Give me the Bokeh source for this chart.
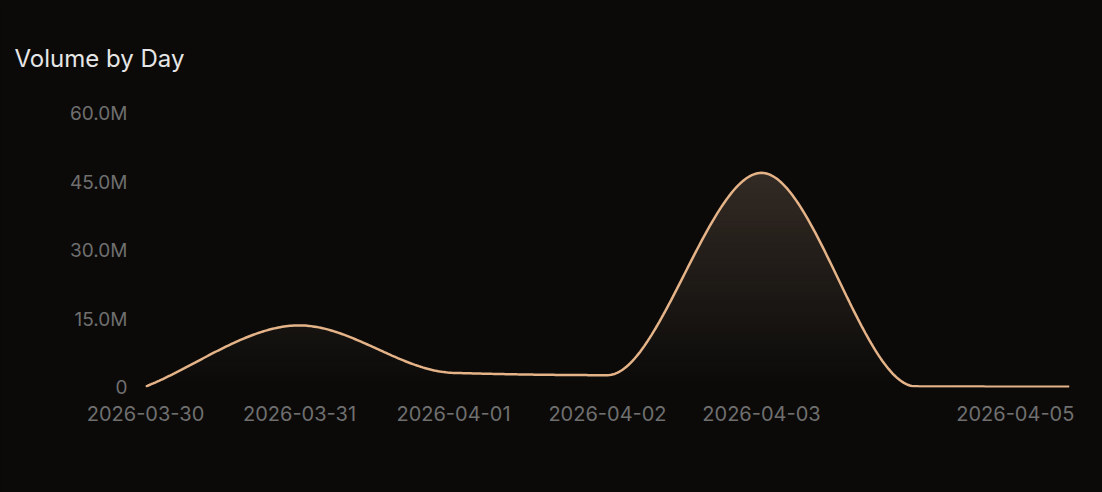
import datetime as dt
import numpy as np
from bokeh.plotting import figure
from bokeh.models import FixedTicker, CustomJSTickFormatter, Range1d, ColumnDataSource
from bokeh.embed import file_html
from bokeh.resources import INLINE

# ---- data ----
dates = ["2026-03-30", "2026-03-31", "2026-04-01", "2026-04-02", "2026-04-03", "2026-04-04", "2026-04-05"]
volume = [0.2e6, 13.6e6, 3.2e6, 2.7e6, 47.0e6, 0.25e6, 0.15e6]
x_tick_labels = ["2026-03-30", "2026-03-31", "2026-04-01", "2026-04-02", "2026-04-03", "2026-04-05"]
y_ticks = [0, 15e6, 30e6, 45e6, 60e6]

BG = (11, 10, 9)
TOP_FILL = (50, 42, 36)
LINE = "#e5b388"
FONT = "Inter"
TICK_COLOR = "#6f6f6f"

def to_ms(s):
    d = dt.datetime.strptime(s, "%Y-%m-%d")
    return (d - dt.datetime(1970, 1, 1)).total_seconds() * 1000.0

xs = np.array([to_ms(d) for d in dates])
ys = np.array(volume, dtype=float)

# monotone cubic (Fritsch-Carlson) rendering of the line
def monotone(x, y, n=80):
    h = np.diff(x)
    d = np.diff(y) / h
    m = np.zeros_like(y)
    m[0], m[-1] = d[0], d[-1]
    for i in range(1, len(y) - 1):
        if d[i - 1] * d[i] <= 0:
            m[i] = 0.0
        else:
            w1 = 2 * h[i] + h[i - 1]
            w2 = h[i] + 2 * h[i - 1]
            m[i] = (w1 + w2) / (w1 / d[i - 1] + w2 / d[i])
    X, Y = [], []
    for i in range(len(x) - 1):
        t = np.linspace(0, 1, n, endpoint=(i == len(x) - 2))
        hh = h[i]
        h00 = 2 * t**3 - 3 * t**2 + 1
        h10 = t**3 - 2 * t**2 + t
        h01 = -2 * t**3 + 3 * t**2
        h11 = t**3 - t**2
        X.append(x[i] + t * hh)
        Y.append(h00 * y[i] + h10 * hh * m[i] + h01 * y[i + 1] + h11 * hh * m[i + 1])
    return np.concatenate(X), np.concatenate(Y)

cx, cy = monotone(xs, ys)

bg_hex = "#%02x%02x%02x" % BG
p = figure(
    width=1102, height=492, output_backend="svg", toolbar_location=None,
    x_axis_type="datetime",
    x_range=Range1d(xs[0], xs[-1]), y_range=Range1d(0, 60e6),
    min_border_left=145, min_border_right=33, min_border_top=113, min_border_bottom=105,
    background_fill_color=bg_hex, border_fill_color=bg_hex,
    title="Volume by Day",
)
p.outline_line_color = None
p.title.text_font = FONT
p.title.text_font_size = "24px"
p.title.text_font_style = "normal"
p.title.text_color = "#e6e6e6"
p.title.align = "left"
p.title.offset = -131
p.title.standoff = 82

# vertical gradient fill under the curve, drawn as opaque stepped bands
n_bands = 40
top = max(volume)
for k in range(n_bands):
    level = top * k / n_bands
    f = (k + 0.5) / n_bands
    col = tuple(int(round(BG[i] + (TOP_FILL[i] - BG[i]) * f)) for i in range(3))
    lo = np.minimum(cy, level)
    src = ColumnDataSource(dict(x=cx, y1=lo, y2=cy))
    p.varea(x="x", y1="y1", y2="y2", source=src, fill_color="#%02x%02x%02x" % col)

p.line(cx, cy, line_color=LINE, line_width=2.5)

p.grid.visible = False
for ax in (p.xaxis, p.yaxis):
    ax.axis_line_color = None
    ax.major_tick_line_color = None
    ax.minor_tick_line_color = None
    ax.major_tick_out = 0
    ax.minor_tick_out = 0
    ax.major_label_text_font = FONT
    ax.major_label_text_color = TICK_COLOR

p.xaxis.major_label_text_font_size = "20px"
p.yaxis.major_label_text_font_size = "19px"

last_tick = to_ms(x_tick_labels[-1])
p.xaxis.ticker = FixedTicker(ticks=[to_ms(d) for d in x_tick_labels])
# the last date label is shifted left (kept inside the chart) as in the reference
p.xaxis.formatter = CustomJSTickFormatter(args=dict(last=last_tick), code="""
const d = new Date(tick);
const m = String(d.getUTCMonth()+1).padStart(2,'0');
const dd = String(d.getUTCDate()).padStart(2,'0');
let s = d.getUTCFullYear() + '-' + m + '-' + dd;
if (tick == last) { s = s + '\\u00a0'.repeat(5); }
return s;
""")
p.xaxis.major_label_standoff = 14

p.yaxis.ticker = FixedTicker(ticks=y_ticks)
p.yaxis.formatter = CustomJSTickFormatter(code="""
return tick == 0 ? '0' : (tick/1e6).toFixed(1) + 'M';
""")
p.yaxis.major_label_standoff = 18

html = file_html(p, INLINE)
html = html.replace("<head>", "<head><style>html,body{margin:0;padding:0;background:#0b0a09;}</style>", 1)
open("out.html", "w").write(html)
